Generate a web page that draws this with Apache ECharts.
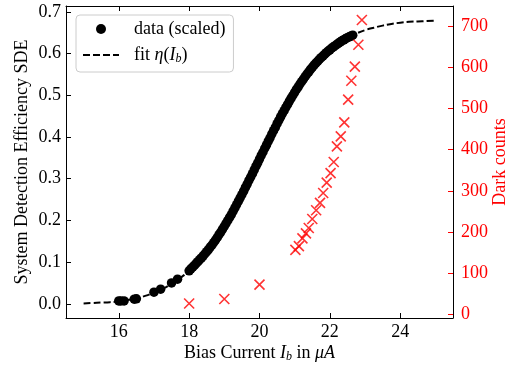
<!DOCTYPE html>
<html>
<head>
<meta charset="utf-8">
<script src="https://cdn.jsdelivr.net/npm/echarts@6/dist/echarts.min.js"></script>
<style>html,body{margin:0;padding:0;background:#fff;}#c{width:513px;height:366px;}</style>
</head>
<body>
<div id="c"></div>
<script>
// Bias current (uA) and scaled SDE (data)
const sdeCurrent = [16.00, 16.06, 16.15, 16.44, 16.50, 17.00, 17.19, 17.50, 17.67,
  18.00, 18.05, 18.10, 18.15, 18.20, 18.25, 18.30, 18.35, 18.40, 18.45, 18.50, 18.55, 18.60, 18.65, 18.70, 18.75, 18.80, 18.85, 18.90, 18.95,
  19.00, 19.05, 19.10, 19.15, 19.20, 19.25, 19.30, 19.35, 19.40, 19.45, 19.50, 19.55, 19.60, 19.65, 19.70, 19.75, 19.80, 19.85, 19.90, 19.95,
  20.00, 20.05, 20.10, 20.15, 20.20, 20.25, 20.30, 20.35, 20.40, 20.45, 20.50, 20.55, 20.60, 20.65, 20.70, 20.75, 20.80, 20.85, 20.90, 20.95,
  21.00, 21.05, 21.10, 21.15, 21.20, 21.25, 21.30, 21.35, 21.40, 21.45, 21.50, 21.55, 21.60, 21.65, 21.70, 21.75, 21.80, 21.85, 21.90, 21.95,
  22.00, 22.05, 22.10, 22.15, 22.20, 22.25, 22.30, 22.35, 22.40, 22.45, 22.50, 22.55, 22.60, 22.65];
const sdeValue = [0.007, 0.007, 0.007, 0.011, 0.012, 0.028, 0.035, 0.050, 0.059,
  0.079, 0.084, 0.088, 0.092, 0.097, 0.101, 0.106, 0.110, 0.115, 0.120, 0.125, 0.130, 0.136, 0.141, 0.147, 0.153, 0.159, 0.166, 0.172, 0.179,
  0.186, 0.193, 0.200, 0.207, 0.214, 0.222, 0.230, 0.238, 0.246, 0.254, 0.262, 0.270, 0.279, 0.287, 0.296, 0.304, 0.312, 0.321, 0.330, 0.338,
  0.347, 0.356, 0.364, 0.373, 0.381, 0.390, 0.398, 0.407, 0.415, 0.423, 0.432, 0.440, 0.448, 0.456, 0.463, 0.471, 0.478, 0.486, 0.493, 0.500,
  0.507, 0.514, 0.520, 0.527, 0.533, 0.539, 0.545, 0.551, 0.556, 0.562, 0.567, 0.572, 0.577, 0.581, 0.586, 0.590, 0.594, 0.598, 0.602, 0.606,
  0.609, 0.613, 0.616, 0.619, 0.622, 0.625, 0.628, 0.631, 0.633, 0.636, 0.638, 0.640, 0.642, 0.644];

// Fit curve eta(I_b)
const fitCurrent = [15.00, 15.25, 15.50, 15.75, 16.00, 16.25, 16.50, 16.75, 17.00, 17.25, 17.50, 17.75, 18.00, 18.25, 18.50, 18.75,
  19.00, 19.25, 19.50, 19.75, 20.00, 20.25, 20.50, 20.75, 21.00, 21.25, 21.50, 21.75, 22.00, 22.25, 22.50, 22.75,
  23.00, 23.25, 23.50, 23.75, 24.00, 24.25, 24.50, 24.75, 25.00];
const fitValue = [0.001, 0.002, 0.003, 0.004, 0.006, 0.009, 0.013, 0.019, 0.027, 0.036, 0.048, 0.062, 0.079, 0.100, 0.124, 0.153,
  0.186, 0.222, 0.262, 0.304, 0.347, 0.390, 0.432, 0.471, 0.506, 0.538, 0.566, 0.589, 0.609, 0.625, 0.638, 0.648,
  0.656, 0.662, 0.667, 0.671, 0.674, 0.676, 0.677, 0.678, 0.679];

// Dark counts (right axis)
const darkCurrent = [18.00, 19.00, 20.00, 21.02, 21.12, 21.22, 21.32, 21.40, 21.50, 21.61, 21.72, 21.81, 21.91, 22.02, 22.11, 22.20, 22.31, 22.41, 22.52, 22.61, 22.71, 22.81, 22.91];
const darkCounts = [27, 38, 73, 157, 166, 185, 197, 210, 232, 253, 271, 295, 320, 343, 370, 408, 432, 466, 521, 567, 601, 654, 714];

// Tick labels
const xTicks = [16, 18, 20, 22, 24];
const yLeftTicks = [0, 0.1, 0.2, 0.3, 0.4, 0.5, 0.6, 0.7];
const yRightTicks = [0, 100, 200, 300, 400, 500, 600, 700];

const FONT = '"Liberation Serif", "DejaVu Serif", serif';
const FS = 18;
const chart = echarts.init(document.getElementById('c'), null, {renderer: 'canvas'});

const sdeData = sdeCurrent.map((x, i) => [x, sdeValue[i]]);
const fitData = fitCurrent.map((x, i) => [x, fitValue[i]]);
const darkData = darkCurrent.map((x, i) => [x, darkCounts[i]]);

const tickCommon = {show: true, inside: true, length: 5, lineStyle: {color: '#000', width: 1}};

chart.setOption({
  animation: false,
  backgroundColor: '#fff',
  grid: {left: 66, right: 60, top: 6, bottom: 48, containLabel: false, outerBoundsMode: 'none'},
  legend: {
    orient: 'vertical',
    left: 76, top: 15,
    padding: [5, 8, 7, 6],
    itemGap: 8,
    itemWidth: 36, itemHeight: 10,
    borderColor: '#cccccc', borderWidth: 1, borderRadius: 4,
    backgroundColor: 'rgba(255,255,255,0.85)',
    textStyle: {
      fontFamily: FONT, fontSize: FS, color: '#000', lineHeight: 18, padding: [0, 0, 0, 10],
      rich: {
        i: {fontFamily: FONT, fontSize: FS, fontStyle: 'italic'},
        n: {fontFamily: FONT, fontSize: FS},
        s: {fontFamily: FONT, fontSize: 12, fontStyle: 'italic', padding: [8, 0, 0, 0]}
      }
    },
    data: [
      {name: 'data (scaled)', icon: 'circle'},
      {name: 'fit', itemStyle: {opacity: 0}}
    ],
    formatter: function (name) {
      if (name === 'fit') return '{n|fit }{i|η}{n|(}{i|I}{s|b}{n|)}';
      return '{n|' + name + '}';
    }
  },
  xAxis: [{
    type: 'value', position: 'bottom', min: 14.5, max: 25.5,
    axisLine: {show: true, onZero: false, lineStyle: {color: '#000', width: 1}},
    axisTick: Object.assign({customValues: xTicks}, tickCommon),
    axisLabel: {customValues: xTicks, fontFamily: FONT, fontSize: FS, color: '#000', margin: 5},
    splitLine: {show: false},
    name: '{r|Bias Current }{i|I}{s|b}{r| in }{i|μA}',
    nameLocation: 'middle', nameGap: 25, nameMoveOverlap: false,
    nameTextStyle: {
      fontFamily: FONT, fontSize: FS, color: '#000',
      rich: {
        r: {fontFamily: FONT, fontSize: FS, color: '#000'},
        i: {fontFamily: FONT, fontSize: FS, fontStyle: 'italic', color: '#000'},
        s: {fontFamily: FONT, fontSize: 12, fontStyle: 'italic', color: '#000', padding: [8, 0, 0, 0]}
      }
    }
  }, {
    type: 'value', position: 'top', min: 14.5, max: 25.5,
    axisLine: {show: true, onZero: false, lineStyle: {color: '#000', width: 1}},
    axisTick: Object.assign({customValues: xTicks}, tickCommon),
    axisLabel: {show: false},
    splitLine: {show: false}
  }],
  yAxis: [{
    type: 'value', position: 'left', min: -0.034, max: 0.714,
    axisLine: {show: true, onZero: false, lineStyle: {color: '#000', width: 1}},
    axisTick: Object.assign({customValues: yLeftTicks}, tickCommon),
    axisLabel: {customValues: yLeftTicks, fontFamily: FONT, fontSize: FS, color: '#000', margin: 5,
      formatter: v => v.toFixed(1)},
    splitLine: {show: false},
    name: 'System Detection Efficiency SDE',
    nameLocation: 'middle', nameGap: 35, nameRotate: 90, nameMoveOverlap: false,
    nameTextStyle: {fontFamily: FONT, fontSize: FS, color: '#000'}
  }, {
    type: 'value', position: 'right', min: -8, max: 748,
    axisLine: {show: true, onZero: false, lineStyle: {color: '#000', width: 1}},
    axisTick: {show: true, inside: true, length: 5, customValues: yRightTicks, lineStyle: {color: '#ff0000', width: 1}},
    axisLabel: {customValues: yRightTicks, fontFamily: FONT, fontSize: FS, color: '#ff0000', margin: 8},
    splitLine: {show: false},
    name: 'Dark counts',
    nameLocation: 'middle', nameGap: 38, nameRotate: 90, nameMoveOverlap: false,
    nameTextStyle: {fontFamily: FONT, fontSize: FS, color: '#ff0000'}
  }],
  series: [{
    name: 'data (scaled)', type: 'scatter', xAxisIndex: 0, yAxisIndex: 0,
    data: sdeData, symbol: 'circle', symbolSize: 9.5,
    itemStyle: {color: '#000', opacity: 1}, z: 3
  }, {
    name: 'fit', type: 'line', xAxisIndex: 0, yAxisIndex: 0,
    data: fitData, smooth: true, symbol: 'none', showSymbol: false,
    lineStyle: {color: '#000', width: 2, type: [7, 3]}, itemStyle: {color: '#000'}, z: 4
  }, {
    name: 'dark', type: 'scatter', xAxisIndex: 0, yAxisIndex: 1,
    data: darkData, symbol: 'path://M0,0L10,10M10,0L0,10', symbolSize: 10,
    itemStyle: {color: 'rgba(0,0,0,0)', borderColor: '#ff0000', borderWidth: 1.6}, z: 5
  }]
});
</script>
</body>
</html>
